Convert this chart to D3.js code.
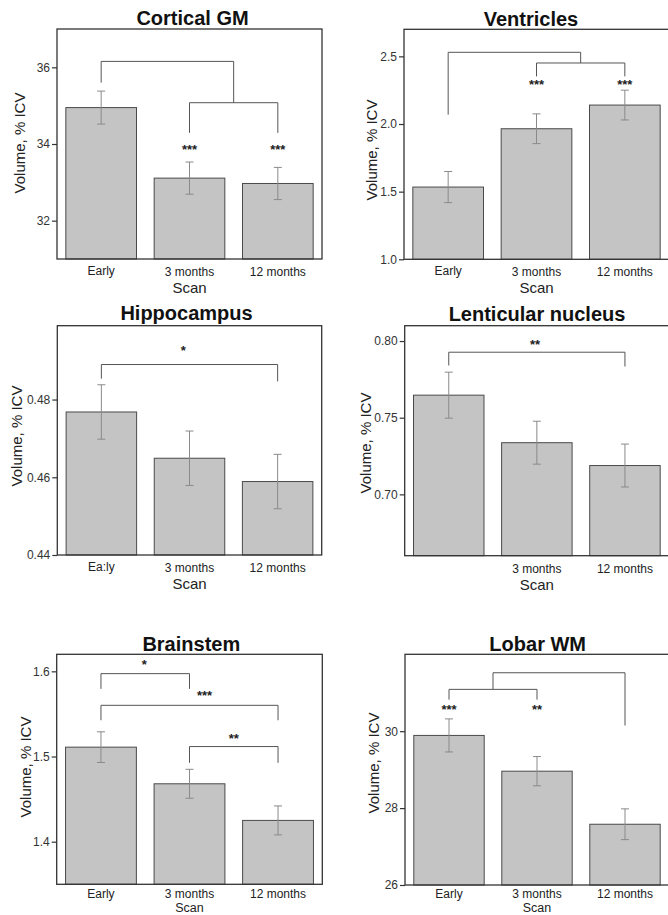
<!DOCTYPE html>
<html>
<head>
<meta charset="utf-8">
<script src="https://cdn.jsdelivr.net/npm/d3@7/dist/d3.min.js"></script>
<style>
  html, body { margin: 0; padding: 0; background: #fff; }
  svg { display: block; font-family: "Liberation Sans", Arial, sans-serif; }
</style>
</head>
<body>
<svg id="chart" width="668" height="915"></svg>
<script>
// ---------- DATA ----------
const titles = ["Cortical GM", "Ventricles", "Hippocampus", "Lenticular nucleus", "Brainstem", "Lobar WM"];
const categories = ["Early", "3 months", "12 months"];
const xTickLabels = [
  ["Early", "3 months", "12 months"],
  ["Early", "3 months", "12 months"],
  ["Ea:ly", "3 months", "12 months"],
  ["", "3 months", "12 months"],
  ["Early", "3 months", "12 months"],
  ["Early", "3 months", "12 months"]
];
const means = [
  [34.95, 33.11, 32.97],
  [1.534, 1.965, 2.14],
  [0.4768, 0.4649, 0.4589],
  [0.7647, 0.7337, 0.7188],
  [1.511, 1.468, 1.425],
  [29.89, 28.96, 27.58]
];
const errors = [
  [0.43, 0.42, 0.42],
  [0.115, 0.11, 0.11],
  [0.007, 0.007, 0.007],
  [0.015, 0.014, 0.014],
  [0.018, 0.017, 0.017],
  [0.43, 0.38, 0.40]
];
const yDomains = [
  [31, 37],
  [1.0, 2.7],
  [0.44, 0.499],
  [0.66, 0.81],
  [1.35, 1.62],
  [26, 32]
];
const yTicks = [
  [32, 34, 36],
  [1.0, 1.5, 2.0, 2.5],
  [0.44, 0.46, 0.48],
  [0.70, 0.75, 0.80],
  [1.4, 1.5, 1.6],
  [26, 28, 30]
];
const yTickFormats = ["d", ".1f", ".2f", ".2f", ".1f", "d"];
const yAxisTitle = "Volume, % ICV";
const xAxisTitle = "Scan";
// significance brackets: x positions in category index units, y in data units
const brackets = [
  [ {x1: 0, x2: 1.5, top: 36.155, y1: 35.60, y2: 35.077},
    {x1: 1, x2: 2, top: 35.077, y1: 34.29, y2: 34.29} ],
  [ {x1: 0, x2: 1.5, top: 2.530, y1: 2.069, y2: 2.451},
    {x1: 1, x2: 2, top: 2.451, y1: 2.352, y2: 2.352} ],
  [ {x1: 0, x2: 2, top: 0.48901, y1: 0.48536, y2: 0.48467} ],
  [ {x1: 0, x2: 2, top: 0.79271, y1: 0.78405, y2: 0.7834} ],
  [ {x1: 0, x2: 1, top: 1.5973, y1: 1.5794, y2: 1.5794},
    {x1: 0, x2: 2, top: 1.5601, y1: 1.5426, y2: 1.5426},
    {x1: 1, x2: 2, top: 1.5117, y1: 1.4926, y2: 1.4926} ],
  [ {x1: 0.5, x2: 2, top: 31.52, y1: 31.088, y2: 30.148},
    {x1: 0, x2: 1, top: 31.088, y1: 30.821, y2: 30.821} ]
];
const stars = [
  [ {x: 1, y: 33.905, t: "***"}, {x: 2, y: 33.905, t: "***"} ],
  [ {x: 1, y: 2.303, t: "***"}, {x: 2, y: 2.303, t: "***"} ],
  [ {x: 0.93, y: 0.49302, t: "*"} ],
  [ {x: 0.98, y: 0.79857, t: "**"} ],
  [ {x: 0.49, y: 1.6098, t: "*"}, {x: 1.17, y: 1.5735, t: "***"}, {x: 1.5, y: 1.5231, t: "**"} ],
  [ {x: 0, y: 30.606, t: "***"}, {x: 1, y: 30.606, t: "**"} ]
];

// ---------- LAYOUT ----------
const layout = [
  {l: 57,    t: 29,    r: 322,   b: 259,   tx: 192.5, ty: 25,    lx: 19,    ly: 143},
  {l: 404,   t: 29.3,  r: 669,   b: 259.3, tx: 531,   ty: 26,    lx: 371.5, ly: 150},
  {l: 57.3,  t: 325.7, r: 321.7, b: 555,   tx: 186.5, ty: 320,   lx: 16.5,  ly: 436},
  {l: 404.7, t: 325.7, r: 669,   b: 555.7, tx: 537,   ty: 320.5, lx: 365,   ly: 443},
  {l: 56.7,  t: 654.3, r: 322.3, b: 884.3, tx: 191.3, ty: 650.5, lx: 25,    ly: 767},
  {l: 405,   t: 654.3, r: 669,   b: 885,   tx: 537.7, ty: 650.5, lx: 373,   ly: 763}
];
const H = 915;

const svg = d3.select("#chart");
svg.append("rect").attr("width", 668).attr("height", H).attr("fill", "#fff");

titles.forEach((title, p) => {
  const L = layout[p];
  const bottomRow = L.b + 34 > H - 4;
  const g = svg.append("g");
  const x = d3.scaleBand().domain(categories).range([L.l, L.r]).paddingInner(0.2).paddingOuter(0.1);
  const y = d3.scaleLinear().domain(yDomains[p]).range([L.b, L.t]);
  const bw = x.bandwidth();
  const cx = i => {
    const i0 = Math.floor(i), f = i - i0;
    const c0 = x(categories[i0]) + bw / 2;
    if (f === 0) return c0;
    const c1 = x(categories[i0 + 1]) + bw / 2;
    return c0 + (c1 - c0) * f;
  };

  // bars
  g.selectAll("rect.bar").data(means[p]).enter().append("rect")
    .attr("class", "bar")
    .attr("x", (d, i) => x(categories[i]))
    .attr("width", bw)
    .attr("y", d => y(d))
    .attr("height", d => L.b - y(d))
    .attr("fill", "#c4c4c4")
    .attr("stroke", "#4a4a4a")
    .attr("stroke-width", 1);

  // error bars
  const eb = g.selectAll("g.err").data(means[p]).enter().append("g").attr("class", "err")
    .attr("stroke", "#8a8a8a").attr("stroke-width", 1).attr("fill", "none");
  eb.append("line")
    .attr("x1", (d, i) => cx(i)).attr("x2", (d, i) => cx(i))
    .attr("y1", (d, i) => y(d + errors[p][i])).attr("y2", (d, i) => y(d - errors[p][i]));
  eb.append("line")
    .attr("x1", (d, i) => cx(i) - 4).attr("x2", (d, i) => cx(i) + 4)
    .attr("y1", (d, i) => y(d + errors[p][i])).attr("y2", (d, i) => y(d + errors[p][i]));
  eb.append("line")
    .attr("x1", (d, i) => cx(i) - 4).attr("x2", (d, i) => cx(i) + 4)
    .attr("y1", (d, i) => y(d - errors[p][i])).attr("y2", (d, i) => y(d - errors[p][i]));

  // frame
  g.append("rect")
    .attr("x", L.l).attr("y", L.t)
    .attr("width", L.r - L.l).attr("height", L.b - L.t)
    .attr("fill", "none").attr("stroke", "#333").attr("stroke-width", 1.3);

  // y axis
  const ya = g.append("g").attr("transform", `translate(${L.l},0)`)
    .call(d3.axisLeft(y).tickValues(yTicks[p]).tickFormat(d3.format(yTickFormats[p])).tickSize(5).tickPadding(2));
  ya.select(".domain").remove();
  ya.selectAll(".tick line").attr("stroke", "#333").attr("stroke-width", 1.2);
  ya.selectAll(".tick text").attr("fill", "#333").style("font-size", "12px")
    .style("font-family", '"Liberation Sans", Arial, sans-serif');

  // x tick labels
  g.selectAll("text.xl").data(xTickLabels[p]).enter().append("text")
    .attr("class", "xl")
    .attr("x", (d, i) => cx(i))
    .attr("y", (d, i) => bottomRow ? H - 17 : L.b + 16.5 + (i === 0 ? -1 : 0.5))
    .attr("text-anchor", "middle")
    .attr("fill", "#222")
    .style("font-size", "12px")
    .text(d => d);

  // x axis title (kept inside the picture on the bottom row)
  g.append("text")
    .attr("x", cx(1)).attr("y", bottomRow ? H - 3 : L.b + 34)
    .attr("text-anchor", "middle").attr("fill", "#222")
    .style("font-size", bottomRow ? "12.5px" : "15px").text(xAxisTitle);

  // y axis title
  g.append("text")
    .attr("transform", `translate(${L.lx},${L.ly}) rotate(-90)`)
    .attr("text-anchor", "middle").attr("dominant-baseline", "central")
    .attr("fill", "#222").style("font-size", "15px").text(yAxisTitle);

  // title
  g.append("text")
    .attr("x", L.tx).attr("y", L.ty)
    .attr("text-anchor", "middle").attr("fill", "#111")
    .style("font-size", "20px").style("font-weight", "bold").text(title);

  // brackets
  g.selectAll("path.br").data(brackets[p]).enter().append("path")
    .attr("class", "br")
    .attr("d", d => `M${cx(d.x1)},${y(d.y1)}V${y(d.top)}H${cx(d.x2)}V${y(d.y2)}`)
    .attr("fill", "none").attr("stroke", "#555").attr("stroke-width", 1);

  // stars
  g.selectAll("text.st").data(stars[p]).enter().append("text")
    .attr("class", "st")
    .attr("x", d => cx(d.x)).attr("y", d => y(d.y) + 6)
    .attr("text-anchor", "middle").attr("fill", "#222")
    .style("font-size", "13px").style("font-weight", "bold")
    .text(d => d.t);
});
</script>
</body>
</html>
